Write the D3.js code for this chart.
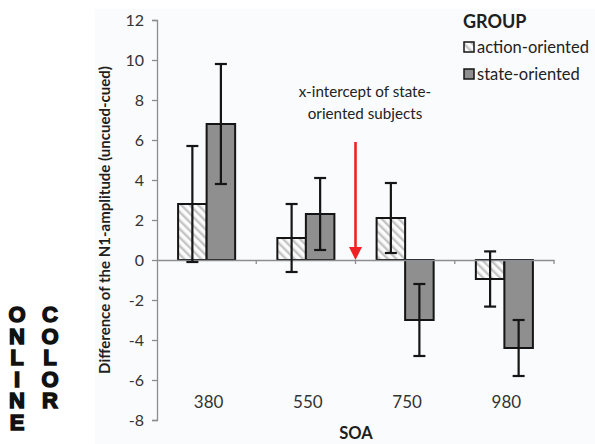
<!DOCTYPE html>
<html>
<head>
<meta charset="utf-8">
<script src="https://cdn.jsdelivr.net/npm/d3@7"></script>
<style>
  body { margin: 0; background: #fff; }
  svg { display: block; font-family: Lato, "Open Sans", sans-serif; }
</style>
</head>
<body>
<div id="graph"></div>
<script>
var soa = ["380", "550", "750", "980"];
var groups = ["action-oriented", "state-oriented"];
var actionMean = [2.8, 1.1, 2.1, -0.95];
var actionErr = [2.9, 1.7, 1.75, 1.38];
var stateMean = [6.8, 2.3, -3.0, -4.4];
var stateErr = [3.0, 1.8, 1.8, 1.4];
var yTicks = [-8, -6, -4, -2, 0, 2, 4, 6, 8, 10, 12];

var W = 595, H = 444;
var svg = d3.select("#graph").append("svg").attr("width", W).attr("height", H);

var defs = svg.append("defs");
var pat = defs.append("pattern")
  .attr("id", "hatch")
  .attr("patternUnits", "userSpaceOnUse")
  .attr("width", 6).attr("height", 6)
  .attr("patternTransform", "rotate(-45)");
pat.append("rect").attr("width", 6).attr("height", 6).attr("fill", "#fbfbfb");
pat.append("rect").attr("width", 2.4).attr("height", 6).attr("fill", "#c4c4c4");

// light panel like the pasted excel chart
svg.append("rect")
  .attr("x", 95).attr("y", 9).attr("width", W - 95).attr("height", H - 9)
  .attr("fill", "#fafbfc");

var x = d3.scaleBand().domain(soa).range([157, 554]).padding(0);
var xg = d3.scaleBand().domain(groups).range([0, x.bandwidth()]).paddingInner(0).paddingOuter(0.74);
var y = d3.scaleLinear().domain([-8, 12]).range([420, 20]);

var flat = d3.merge(soa.map(function(s, i) {
  return [
    { soa: s, g: groups[0], v: actionMean[i], e: actionErr[i] },
    { soa: s, g: groups[1], v: stateMean[i], e: stateErr[i] }
  ];
}));

// y axis
var yAxis = svg.append("g")
  .attr("transform", "translate(157,0)")
  .call(d3.axisLeft(y).tickValues(yTicks).tickSize(5).tickPadding(8)
    .tickFormat(function(d) { return String(d); }));
yAxis.select(".domain").attr("stroke", "#8a8e92").attr("stroke-width", 1.3);
yAxis.selectAll(".tick line").attr("stroke", "#8a8e92").attr("stroke-width", 1.3);
yAxis.selectAll(".tick text")
  .attr("fill", "#333").attr("font-size", 16)
  .attr("font-family", "Lato, sans-serif");

// bars
svg.append("g").selectAll("rect").data(flat).join("rect")
  .attr("x", function(d) { return x(d.soa) + xg(d.g); })
  .attr("width", xg.bandwidth())
  .attr("y", function(d) { return y(Math.max(0, d.v)); })
  .attr("height", function(d) { return Math.abs(y(d.v) - y(0)); })
  .attr("fill", function(d) { return d.g === groups[0] ? "url(#hatch)" : "#8f8f8f"; })
  .attr("stroke", "#151515").attr("stroke-width", 2);

// x axis line at zero
var xAxis = svg.append("g")
  .attr("transform", "translate(0," + y(0) + ")")
  .call(d3.axisBottom(x).tickSize(0).tickFormat(""));
xAxis.select(".domain").attr("stroke", "#8a8e92").attr("stroke-width", 1.3);
xAxis.selectAll(".tick").remove();
var bounds = soa.map(function(s) { return x(s); }).concat([x.range()[1]]);
xAxis.selectAll("line.bnd").data(bounds.slice(1)).join("line")
  .attr("class", "bnd")
  .attr("x1", function(d) { return d; }).attr("x2", function(d) { return d; })
  .attr("y1", 0).attr("y2", 4)
  .attr("stroke", "#8a8e92").attr("stroke-width", 1.3);

// error bars
var eb = svg.append("g").attr("stroke", "#151515").attr("stroke-width", 2.2);
flat.forEach(function(d) {
  var cx = x(d.soa) + xg(d.g) + xg.bandwidth() / 2;
  eb.append("line").attr("x1", cx).attr("x2", cx)
    .attr("y1", y(d.v + d.e)).attr("y2", y(d.v - d.e));
  [d.v + d.e, d.v - d.e].forEach(function(v) {
    eb.append("line").attr("x1", cx - 6).attr("x2", cx + 6)
      .attr("y1", y(v)).attr("y2", y(v));
  });
});

// category labels
svg.append("g").selectAll("text").data(soa).join("text")
  .attr("x", function(d) { return x(d) + x.bandwidth() / 2 + 2; })
  .attr("y", 408)
  .attr("text-anchor", "middle")
  .attr("font-size", 17).attr("fill", "#333")
  .text(function(d) { return d; });

svg.append("text")
  .attr("x", 356).attr("y", 439)
  .attr("text-anchor", "middle")
  .attr("font-size", 16.5).attr("font-weight", "bold").attr("fill", "#1e1e1e")
  .text("SOA");

svg.append("text")
  .attr("transform", "translate(110,220) rotate(-90)")
  .attr("text-anchor", "middle")
  .attr("font-size", 15).attr("font-weight", "bold").attr("fill", "#1e1e1e")
  .text("Difference of the N1-amplitude (uncued-cued)");

// red arrow at the x-intercept
var ax = x("750");
svg.append("line")
  .attr("x1", ax).attr("x2", ax).attr("y1", 142).attr("y2", 250)
  .attr("stroke", "#ee2224").attr("stroke-width", 2.6);
svg.append("path")
  .attr("d", "M" + (ax - 6.5) + ",247L" + (ax + 6.5) + ",247L" + ax + "," + y(0) + "Z")
  .attr("fill", "#ee2224");

var note = svg.append("text")
  .attr("text-anchor", "middle").attr("font-size", 15.2).attr("fill", "#222");
note.append("tspan").attr("x", 365).attr("y", 97).text("x-intercept of state-");
note.append("tspan").attr("x", 365).attr("y", 119).text("oriented subjects");

// legend
var lg = svg.append("g").attr("transform", "translate(463,0)");
lg.append("text").attr("x", 0).attr("y", 28)
  .attr("font-size", 18).attr("font-weight", "bold").attr("fill", "#1e1e1e")
  .text("GROUP");
lg.selectAll("g.item").data(groups).join("g")
  .attr("class", "item")
  .attr("transform", function(d, i) { return "translate(0," + (53 + i * 27) + ")"; })
  .each(function(d, i) {
    var g = d3.select(this);
    g.append("rect").attr("x", 1).attr("y", -11).attr("width", 10).attr("height", 10)
      .attr("fill", i === 0 ? "url(#hatch)" : "#8f8f8f")
      .attr("stroke", "#151515").attr("stroke-width", 1.5);
    g.append("text").attr("x", 14).attr("y", 0)
      .attr("font-size", 16.5).attr("fill", "#222").text(d);
  });

// "ONLINE COLOR" stacked label, one vertical text per word
[["ONLINE", 17], ["COLOR", 50]].forEach(function(w) {
  svg.append("text")
    .attr("x", w[1]).attr("y", 302)
    .style("writing-mode", "vertical-rl")
    .style("text-orientation", "upright")
    .style("letter-spacing", "-3.5px")
    .attr("font-family", "Liberation Sans, Arial, sans-serif")
    .attr("font-size", 22).attr("font-weight", "bold")
    .attr("fill", "#111").attr("stroke", "#111").attr("stroke-width", 1.5)
    .text(w[0]);
});
</script>
</body>
</html>
